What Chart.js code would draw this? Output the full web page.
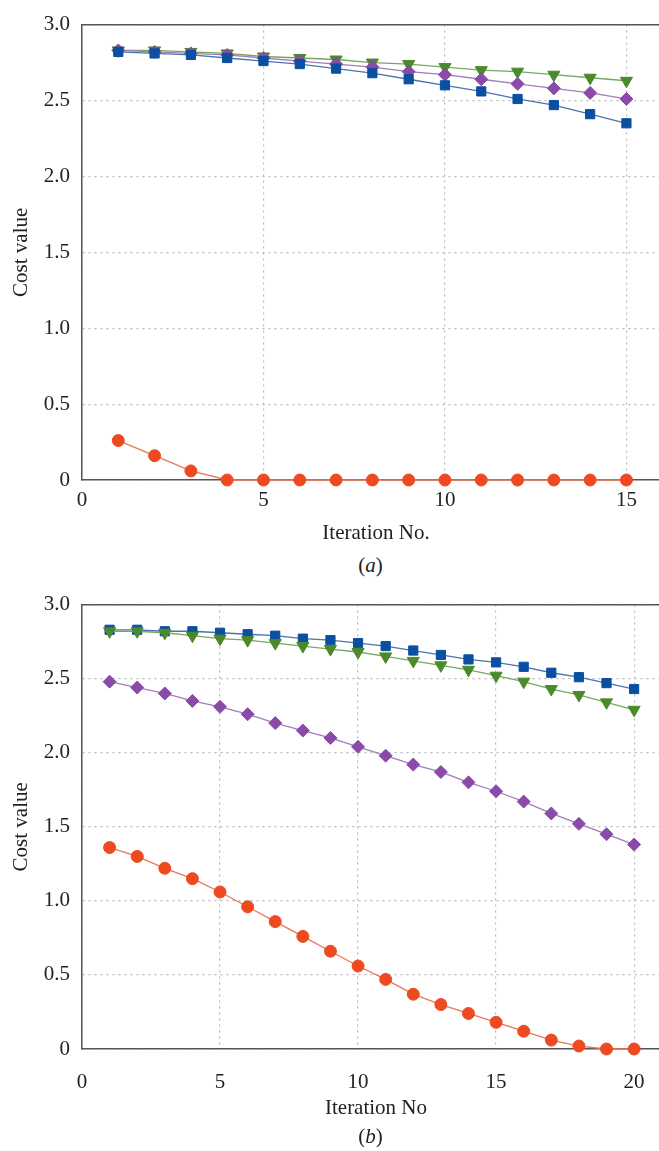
<!DOCTYPE html>
<html>
<head>
<meta charset="utf-8">
<script src="https://cdn.jsdelivr.net/npm/chart.js@4/dist/chart.umd.min.js"></script>
<style>
  body { margin: 0; background: #fff; overflow: hidden; width: 659px; }
  .cap { font-family: "Liberation Serif", serif; font-size: 21px; color: #222; text-align: center; padding-left: 82px; width: 577px; }
  canvas { display: block; }
</style>
</head>
<body>
<canvas id="chartA" width="690" height="550"></canvas>
<div class="cap" style="height:30px;line-height:30px;">(<i>a</i>)</div>
<canvas id="chartB" width="690" height="545"></canvas>
<div class="cap" style="height:22px;line-height:22px;">(<i>b</i>)</div>
<script>
// (a) 15 iterations
const itersA = [1,2,3,4,5,6,7,8,9,10,11,12,13,14,15];
const blueA   = [2.82,2.81,2.80,2.78,2.76,2.74,2.71,2.68,2.64,2.60,2.56,2.51,2.47,2.41,2.35];
const purpleA = [2.83,2.82,2.81,2.80,2.78,2.76,2.74,2.72,2.69,2.67,2.64,2.61,2.58,2.55,2.51];
const greenA  = [2.83,2.83,2.82,2.81,2.79,2.78,2.77,2.75,2.74,2.72,2.70,2.69,2.67,2.65,2.63];
const redA    = [0.26,0.16,0.06,0,0,0,0,0,0,0,0,0,0,0,0];

// (b) 20 iterations
const itersB = [1,2,3,4,5,6,7,8,9,10,11,12,13,14,15,16,17,18,19,20];
const blueB   = [2.83,2.83,2.82,2.82,2.81,2.80,2.79,2.77,2.76,2.74,2.72,2.69,2.66,2.63,2.61,2.58,2.54,2.51,2.47,2.43];
const greenB  = [2.82,2.82,2.81,2.79,2.77,2.76,2.74,2.72,2.70,2.68,2.65,2.62,2.59,2.56,2.52,2.48,2.43,2.39,2.34,2.29];
const purpleB = [2.48,2.44,2.40,2.35,2.31,2.26,2.20,2.15,2.10,2.04,1.98,1.92,1.87,1.80,1.74,1.67,1.59,1.52,1.45,1.38];
const redB    = [1.36,1.30,1.22,1.15,1.06,0.96,0.86,0.76,0.66,0.56,0.47,0.37,0.30,0.24,0.18,0.12,0.06,0.02,0,0];

const yTicks = [0,0.5,1.0,1.5,2.0,2.5,3.0];

const font = { family: "'Liberation Serif', serif", size: 21 };
const gridStyle = { color: '#b8b8b8', lineWidth: 1.2, drawTicks: false };

function series(xs, ys, color, lineColor, style, radius, rotation) {
  return {
    data: xs.map((x, i) => ({ x: x, y: ys[i] })),
    borderColor: lineColor,
    borderWidth: 1.3,
    pointBackgroundColor: color,
    pointBorderColor: color,
    pointBorderWidth: 1,
    pointStyle: style,
    pointRadius: radius,
    pointRotation: rotation || 0,
    clip: false,
    tension: 0
  };
}

function makeChart(id, datasets, xMax, xTitle, opts) {
  new Chart(document.getElementById(id), {
    type: 'line',
    data: { datasets: datasets },
    options: {
      responsive: false,
      animation: false,
      layout: { padding: { top: opts.padTop, right: 20, left: 0, bottom: 0 } },
      plugins: { legend: { display: false }, tooltip: { enabled: false } },
      scales: {
        x: {
          type: 'linear', min: 0, max: xMax,
          afterBuildTicks: s => { s.ticks = s.ticks.filter(t => t.value % 5 === 0); },
          afterFit: s => { s.height = opts.axisH; },
          ticks: { stepSize: 5, includeBounds: false, color: '#222', font: font, padding: opts.tickPad, maxRotation: 0 },
          grid: gridStyle,
          border: { display: true, color: '#555', width: 1.5, dash: [2, 4] },
          title: { display: true, text: xTitle, color: '#222', font: font, padding: { top: opts.titlePad } }
        },
        xTop: {
          type: 'linear', position: 'top', min: 0, max: xMax,
          afterFit: s => { s.height = 0; },
          ticks: { display: false, includeBounds: false },
          grid: { display: false },
          border: { display: true, color: '#555', width: 1.5 }
        },
        y: {
          min: 0, max: 3,
          afterBuildTicks: s => { s.ticks = yTicks.map(v => ({ value: v })); },
          afterFit: s => { s.width = 82; },
          ticks: {
            color: '#222', font: font, padding: 12,
            callback: v => v === 0 ? '0' : v.toFixed(1)
          },
          grid: gridStyle,
          border: { display: true, color: '#555', width: 1.5, dash: [2, 4] },
          title: { display: true, text: 'Cost value', color: '#222', font: font, padding: { top: 9, bottom: 0 } }
        }
      }
    }
  });
}

makeChart('chartA', [
  series(itersA, redA, '#ee4a22', '#e8775a', 'circle', 6),
  series(itersA, blueA, '#0a4fa0', '#4a74ad', 'rect', 6.5),
  series(itersA, purpleA, '#8a4aa8', '#a57bbb', 'rectRot', 6.5),
  series(itersA, greenA, '#4a8a2a', '#78a860', 'triangle', 7, 180)
], 16.2, 'Iteration No.', { padTop: 22, axisH: 70, tickPad: 8, titlePad: 8 });

makeChart('chartB', [
  series(itersB, redB, '#ee4a22', '#e8775a', 'circle', 6),
  series(itersB, purpleB, '#8a4aa8', '#a57bbb', 'rectRot', 6.5),
  series(itersB, greenB, '#4a8a2a', '#78a860', 'triangle', 7, 180),
  series(itersB, blueB, '#0a4fa0', '#4a74ad', 'rect', 6.5)
], 21.3, 'Iteration No', { padTop: 12, axisH: 76, tickPad: 21, titlePad: 4 });
</script>
</body>
</html>
